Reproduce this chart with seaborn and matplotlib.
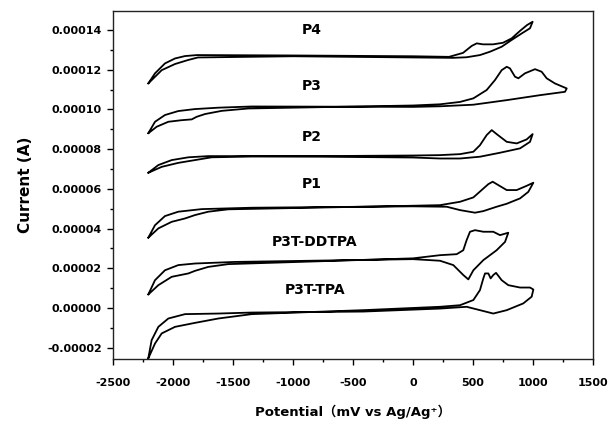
import numpy as np
import pandas as pd
import seaborn as sns
import matplotlib.pyplot as plt
from matplotlib.ticker import MultipleLocator, FormatStrFormatter

# Cyclic voltammograms, potential in mV, current in microamps
p4_e = [-2206, -2150, -2067, -1983, -1900, -1800, -1000, 0, 300, 417, 489, 531, 583, 667, 750,
        822, 892, 950, 997, 975, 906, 822, 739, 642, 558, 447, 333, 0, -1000, -1792, -1875,
        -1983, -2094, -2206]
p4_i = [113.1, 118.2, 123.2, 125.7, 126.9, 127.4, 127.2, 126.8, 126.5, 128.5, 132.0, 133.3, 132.8,
        132.8, 133.6, 135.8, 139.6, 142.5, 144.2, 140.9, 138.3, 135.0, 131.6, 129.1, 127.4, 126.3,
        126.0, 126.2, 126.8, 126.2, 124.9, 122.9, 119.8, 113.1]

p3_e = [-2206, -2136, -2039, -1928, -1844, -1803, -1733, -1594, -1372, 0, 225, 392, 503, 614, 683,
        739, 781, 808, 850, 878, 933, 1017, 1072, 1114, 1183, 1281, 1267, 1058, 781, 503, 225, 0,
        -1344, -1622, -1817, -1956, -2067, -2150, -2206]
p3_i = [88.0, 91.3, 93.8, 94.6, 95.0, 96.3, 97.7, 99.3, 100.5, 102.0, 102.6, 103.8, 105.6, 109.8,
        114.8, 119.8, 121.5, 120.7, 116.5, 115.7, 118.2, 120.3, 119.0, 115.7, 113.1, 110.6, 108.9,
        107.2, 104.7, 102.4, 101.6, 101.3, 101.5, 100.9, 100.2, 99.2, 97.2, 93.8, 88.0]

p2_e = [-2206, -2094, -1956, -1817, -1678, -1344, 0, 225, 392, 503, 558, 614, 656, 697, 781, 864,
        947, 997, 975, 892, 725, 558, 392, 225, 0, -1344, -1706, -1872, -2011, -2122, -2206]
p2_i = [68.1, 71.1, 73.1, 74.5, 75.9, 76.3, 76.8, 77.0, 77.5, 78.7, 82.0, 87.1, 89.6, 87.6, 83.7,
        82.9, 84.9, 87.6, 83.7, 80.4, 78.2, 76.2, 75.3, 75.3, 75.8, 76.5, 76.5, 75.9, 74.5, 72.0, 68.1]

p1_e = [-2206, -2122, -2011, -1900, -1817, -1706, -1539, 0, 225, 392, 503, 572, 628, 664, 711, 781,
        864, 942, 1003, 961, 892, 781, 697, 586, 517, 392, 281, 0, -1344, -1761, -1956, -2067,
        -2150, -2206]
p1_i = [35.4, 40.1, 43.4, 45.1, 46.8, 48.5, 49.7, 51.5, 51.8, 53.5, 55.7, 59.4, 62.4, 63.6, 61.9,
        59.4, 59.4, 61.4, 63.1, 58.5, 55.2, 52.5, 51.0, 48.8, 48.0, 49.3, 51.0, 51.2, 50.5, 49.8,
        48.5, 46.3, 41.7, 35.4]

ddtpa_e = [-2206, -2122, -2011, -1872, -1817, -1706, -1539, 0, 225, 364, 419, 447, 475, 517, 586,
           669, 725, 794, 767, 697, 586, 503, 461, 419, 336, 225, 0, -1483, -1817, -1956, -2067,
           -2150, -2206]
ddtpa_i = [6.8, 11.5, 15.7, 17.4, 18.7, 20.7, 22.1, 25.0, 26.6, 27.1, 29.1, 34.2, 38.4, 39.2, 38.4,
           38.4, 36.7, 37.9, 33.3, 29.1, 24.1, 19.0, 14.4, 16.6, 21.6, 23.8, 24.6, 23.2, 22.4, 21.6,
           19.0, 14.0, 6.8]

tpa_e = [-2206, -2150, -2094, -1983, -1817, -1622, -1344, -414, 225, 392, 503, 558, 586, 600, 628,
         647, 669, 692, 739, 794, 892, 975, 1003, 989, 919, 781, 669, 558, 447, 225, -414, -1344,
         -1622, -1900, -2039, -2122, -2178, -2206]
tpa_i = [-25.4, -17.9, -12.8, -9.5, -7.5, -5.3, -3.1, -1.1, 0.6, 1.4, 4.0, 9.0, 14.9, 17.4, 17.4,
         14.9, 16.6, 17.7, 14.0, 11.5, 10.3, 10.3, 9.3, 5.7, 2.3, -1.1, -2.8, -1.1, 0.6, -0.3, -1.8,
         -2.3, -2.8, -3.1, -5.3, -9.5, -16.2, -25.4]

names = ['P4', 'P3', 'P2', 'P1', 'P3T-DDTPA', 'P3T-TPA']
label_pos = [(-842, 140.0), (-842, 111.8), (-842, 86.0), (-842, 62.4), (-817, 33.3), (-817, 9.0)]

curves = [(p4_e, p4_i), (p3_e, p3_i), (p2_e, p2_i), (p1_e, p1_i),
          (ddtpa_e, ddtpa_i), (tpa_e, tpa_i)]

sns.set_style('ticks')
plt.rcParams['font.family'] = ['DejaVu Sans', 'Noto Sans CJK SC']
plt.rcParams['font.weight'] = 'bold'
plt.rcParams['axes.unicode_minus'] = False
for key in ['text.color', 'axes.labelcolor', 'xtick.color', 'ytick.color', 'axes.edgecolor']:
    plt.rcParams[key] = 'black'

fig = plt.figure(figsize=(6.08, 4.25), dpi=100)
ax = fig.add_axes([113 / 608, 1 - 359 / 425, 480 / 608, 348 / 425])

for (e, i), name in zip(curves, names):
    d = pd.DataFrame({'potential': e, 'current': np.array(i) * 1e-6})
    sns.lineplot(data=d, x='potential', y='current', sort=False, estimator=None,
                 color='black', lw=1.3, ax=ax)

for name, (x, y) in zip(names, label_pos):
    ax.text(x, y * 1e-6, name, ha='center', va='center', fontsize=10, fontweight='bold')

ax.set_xlim(-2500, 1500)
ax.set_ylim(-0.0000257, 0.0001496)
ax.xaxis.set_major_locator(MultipleLocator(500))
ax.xaxis.set_minor_locator(MultipleLocator(250))
ax.yaxis.set_major_locator(MultipleLocator(0.00002))
ax.yaxis.set_minor_locator(MultipleLocator(0.00001))
ax.yaxis.set_major_formatter(FormatStrFormatter('%.5f'))
ax.tick_params(which='major', direction='out', length=4.5, width=1, labelsize=8)
ax.tick_params(which='minor', direction='out', length=2.5, width=1)
ax.tick_params(axis='x', which='major', pad=9)
ax.tick_params(axis='y', which='major', pad=3.5)
for lab in ax.get_xticklabels() + ax.get_yticklabels():
    lab.set_fontweight('bold')
for s in ax.spines.values():
    s.set_visible(True)
    s.set_linewidth(1)
    s.set_color('#222222')

ax.set_xlabel('Potential\uff08mV vs Ag/Ag\u207a\uff09', fontsize=9.5, fontweight='bold', labelpad=12)
ax.set_ylabel('Current (A)', fontsize=11, fontweight='bold', labelpad=10)

fig.savefig('out.png', dpi=100)
